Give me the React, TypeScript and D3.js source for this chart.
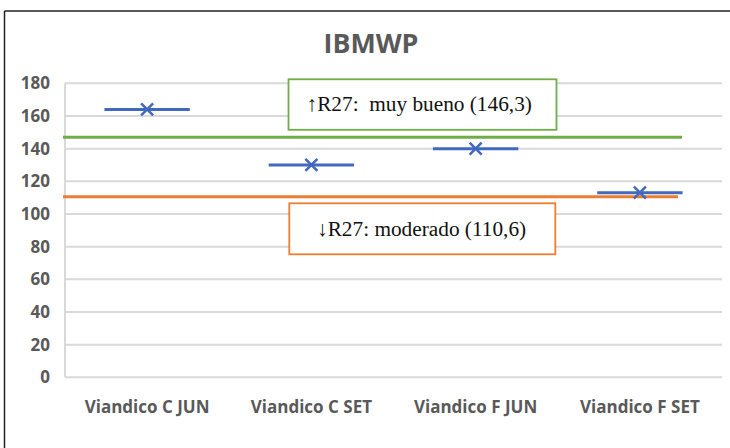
import React from "react";
import * as d3 from "d3";

const categories = ["Viandico C JUN", "Viandico C SET", "Viandico F JUN", "Viandico F SET"];
const values = [164, 130, 140, 113];
const yTicks = [0, 20, 40, 60, 80, 100, 120, 140, 160, 180];
const thresholdValues = [147, 110.6];
const thresholdLabels = ["\u2191R27:  muy bueno (146,3)", "\u2193R27: moderado (110,6)"];
const thresholdColors = ["#70ad47", "#ed7d31"];

const W = 730;
const H = 448;
const plot = { left: 65, right: 722, top: 83.3, bottom: 377.3 };

export default function App() {
  const x = d3.scaleBand<string>().domain(categories).range([plot.left, plot.right]).padding(0);
  const y = d3.scaleLinear().domain([0, 180]).range([plot.bottom, plot.top]);
  const half = x.bandwidth() * 0.26;
  const ms = 6;
  const boxes = [
    { x: 288.5, y: 79.3, w: 268, h: 50.5, tx: 306.5, ty: 110.5 },
    { x: 289.3, y: 203.3, w: 266, h: 51, tx: 317, ty: 236 },
  ];
  return (
    <svg width={W} height={H} style={{ position: "absolute", left: 0, top: 0, background: "#fff" }}>
      <rect x={0} y={0} width={W} height={H} fill="#fff" />
      <line x1={4.5} x2={W} y1={11} y2={11} stroke="#222" strokeWidth={1.5} />
      <line x1={4.5} x2={4.5} y1={11} y2={H} stroke="#222" strokeWidth={1.5} />
      <text x={371} y={52.7} textAnchor="middle" fontFamily="'Open Sans', sans-serif" fontWeight={700} fontSize={26.8} fill="#595959">IBMWP</text>
      {yTicks.map((t) => (
        <g key={t}>
          <line x1={plot.left} x2={plot.right} y1={y(t)} y2={y(t)} stroke="#d9d9d9" strokeWidth={2} />
          <text x={50} y={y(t)} dy="0.36em" textAnchor="end" fontFamily="'Open Sans', sans-serif" fontWeight={700} fontSize={17} fill="#595959">{t}</text>
        </g>
      ))}
      <line x1={plot.left} x2={plot.left} y1={plot.top} y2={plot.bottom} stroke="#d9d9d9" strokeWidth={2} />
      {categories.map((c) => (
        <text key={c} x={(x(c) ?? 0) + x.bandwidth() / 2} y={413} textAnchor="middle" fontFamily="'Open Sans', sans-serif" fontWeight={700} fontSize={17} fill="#595959">{c}</text>
      ))}
      {thresholdValues.map((v, i) => (
        <line key={i} x1={63} x2={i === 0 ? 682 : 678} y1={y(v)} y2={y(v)} stroke={thresholdColors[i]} strokeWidth={3} />
      ))}
      {categories.map((c, i) => {
        const cx = (x(c) ?? 0) + x.bandwidth() / 2;
        const cy = y(values[i]);
        return (
          <g key={c}>
            <line x1={cx - half} x2={cx + half} y1={cy} y2={cy} stroke="#4169be" strokeWidth={3} />
            <path d={`M${cx - ms},${cy - ms}L${cx + ms},${cy + ms}M${cx - ms},${cy + ms}L${cx + ms},${cy - ms}`} stroke="#4169be" strokeWidth={2.5} fill="none" />
          </g>
        );
      })}
      {boxes.map((b, i) => (
        <g key={i}>
          <rect x={b.x} y={b.y} width={b.w} height={b.h} fill="#fff" stroke={thresholdColors[i]} strokeWidth={1.8} />
          <text x={b.tx} y={b.ty} fontFamily="'Liberation Serif', 'Times New Roman', serif" fontSize={21.3} fill="#111" style={{ whiteSpace: "pre" }}>{thresholdLabels[i]}</text>
        </g>
      ))}
    </svg>
  );
}
